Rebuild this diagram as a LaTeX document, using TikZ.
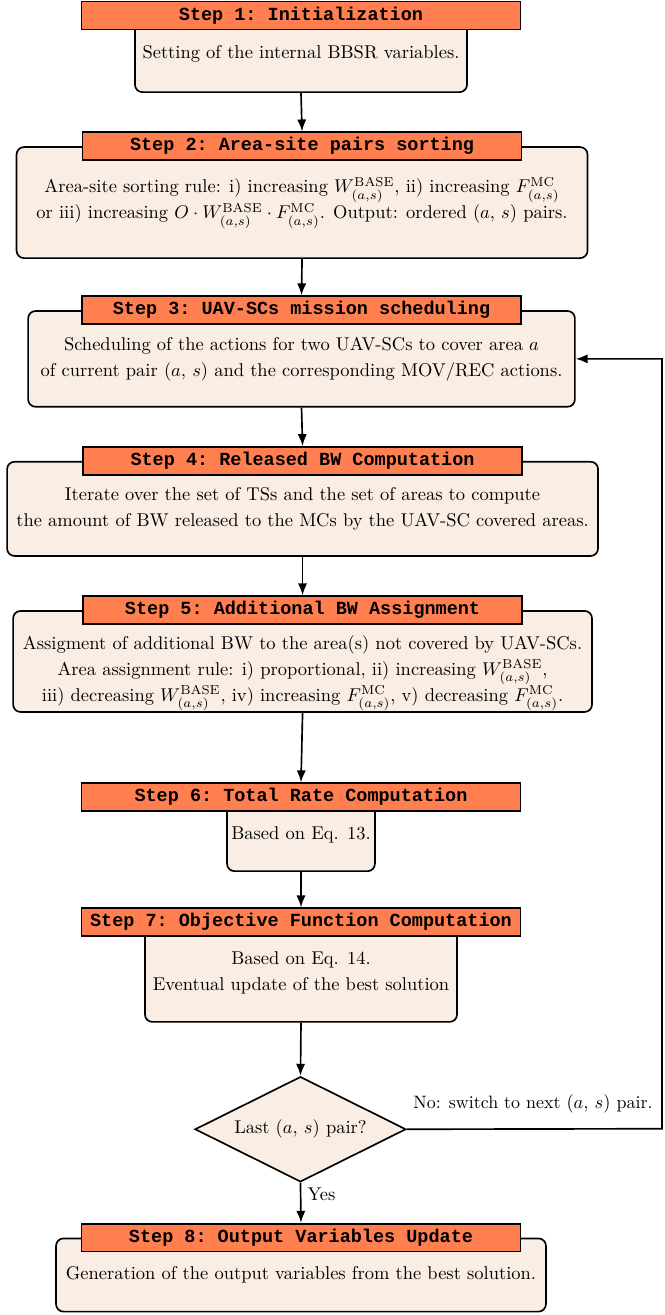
\documentclass[tikz,border=0pt]{standalone}
\usepackage{fontspec}
\setmonofont{Liberation Mono}
\usepackage{xcolor}
\usepackage{tikz}
\usetikzlibrary{shapes.geometric,arrows.meta}
\definecolor{steporange}{RGB}{255,127,80}
\definecolor{stepbeige}{RGB}{250,238,228}

\begin{document}
\begin{tikzpicture}[
    stepbody/.style={draw, line width=0.9pt, fill=stepbeige, rounded corners=4pt,
        align=center, inner sep=0pt, font=\fontsize{10}{14}\selectfont},
    steptitle/.style={draw, line width=0.9pt, fill=steporange, inner sep=0pt,
        minimum width=8.34cm, minimum height=0.53cm, font=\ttfamily\bfseries},
    flow/.style={line width=0.9pt, -{Latex[length=6.5pt,width=5pt]}}
]
\useasboundingbox (0,0) rectangle (12.62,-24.99);

% bodies
\node[stepbody, minimum width=6.31cm, minimum height=1.44cm] (s1) at (5.72,-1.03)
{Setting of the internal BBSR variables.};
\node[stepbody, minimum width=10.85cm, minimum height=2.11cm] (s2) at (5.74,-3.85)
{Area-site sorting rule: i) increasing $W^{\mathrm{BASE}}_{(a,s)}$, ii) increasing $F^{\mathrm{MC}}_{(a,s)}$\\
or iii) increasing $O\cdot W^{\mathrm{BASE}}_{(a,s)}\cdot F^{\mathrm{MC}}_{(a,s)}$. Output: ordered $(a,\,s)$ pairs.};
\node[stepbody, minimum width=10.39cm, minimum height=1.82cm] (s3) at (5.73,-6.82)
{Scheduling of the actions for two UAV-SCs to cover area $a$\\
of current pair $(a,\,s)$ and the corresponding MOV/REC actions.};
\node[stepbody, minimum width=11.23cm, minimum height=1.79cm] (s4) at (5.75,-9.67)
{Iterate over the set of TSs and the set of areas to compute\\
the amount of BW released to the MCs by the UAV-SC covered areas.};
\node[stepbody, minimum width=11.00cm, minimum height=1.92cm] (s5) at (5.75,-12.57)
{\rule{0pt}{20pt}Assigment of additional BW to the area(s) not covered by UAV-SCs.\\
Area assignment rule: i) proportional, ii) increasing $W^{\mathrm{BASE}}_{(a,s)}$,\\
iii) decreasing $W^{\mathrm{BASE}}_{(a,s)}$, iv) increasing $F^{\mathrm{MC}}_{(a,s)}$, v) decreasing $F^{\mathrm{MC}}_{(a,s)}$.};
\node[stepbody, minimum width=2.81cm, minimum height=1.39cm] (s6) at (5.72,-15.86)
{Based on Eq. 13.};
\node[stepbody, minimum width=5.93cm, minimum height=1.88cm] (s7) at (5.72,-18.48)
{Based on Eq. 14.\\
Eventual update of the best solution};
\node[stepbody, minimum width=9.31cm, minimum height=1.39cm] (s8) at (5.72,-24.23)
{Generation of the output variables from the best solution.};

% titles
\node[steptitle] (t1) at (s1.north) {Step 1: Initialization};
\node[steptitle] (t2) at (s2.north) {Step 2: Area-site pairs sorting};
\node[steptitle] (t3) at (s3.north) {Step 3: UAV-SCs mission scheduling};
\node[steptitle] (t4) at (s4.north) {Step 4: Released BW Computation};
\node[steptitle] (t5) at (s5.north) {Step 5: Additional BW Assignment};
\node[steptitle] (t6) at (s6.north) {Step 6: Total Rate Computation};
\node[steptitle] (t7) at (s7.north) {Step 7: Objective Function Computation};
\node[steptitle] (t8) at (s8.north) {Step 8: Output Variables Update};

% decision
\node[diamond, draw, line width=0.9pt, fill=stepbeige, aspect=2, inner sep=0pt,
    minimum width=4.01cm, minimum height=2.00cm] (last) at (5.71,-21.46)
{Last $(a,\,s)$ pair?};
\node[anchor=west, inner sep=0pt, font=\fontsize{9.7}{12}\selectfont] (nolabel) at (7.85,-20.98)
{No: switch to next $(a,\,s)$ pair.};
\coordinate (back) at (12.58,-21.45);

% arrows
\draw[flow] (s1.south) -- (t2.north);
\draw[flow] (s2.south) -- (t3.north);
\draw[flow] (s3.south) -- (t4.north);
\draw[flow] (s4.south) -- (t5.north);
\draw[flow] (s5.south) -- (t6.north);
\draw[flow] (s6.south) -- (t7.north);
\draw[flow] (s7.south) -- (last.north);
\draw[flow] (last.south) -- node[pos=0.3, right] (yes) {Yes} (t8.north);
\draw[flow] (last.east) -- (back) |- (s3.east);

\end{tikzpicture}
\end{document}
